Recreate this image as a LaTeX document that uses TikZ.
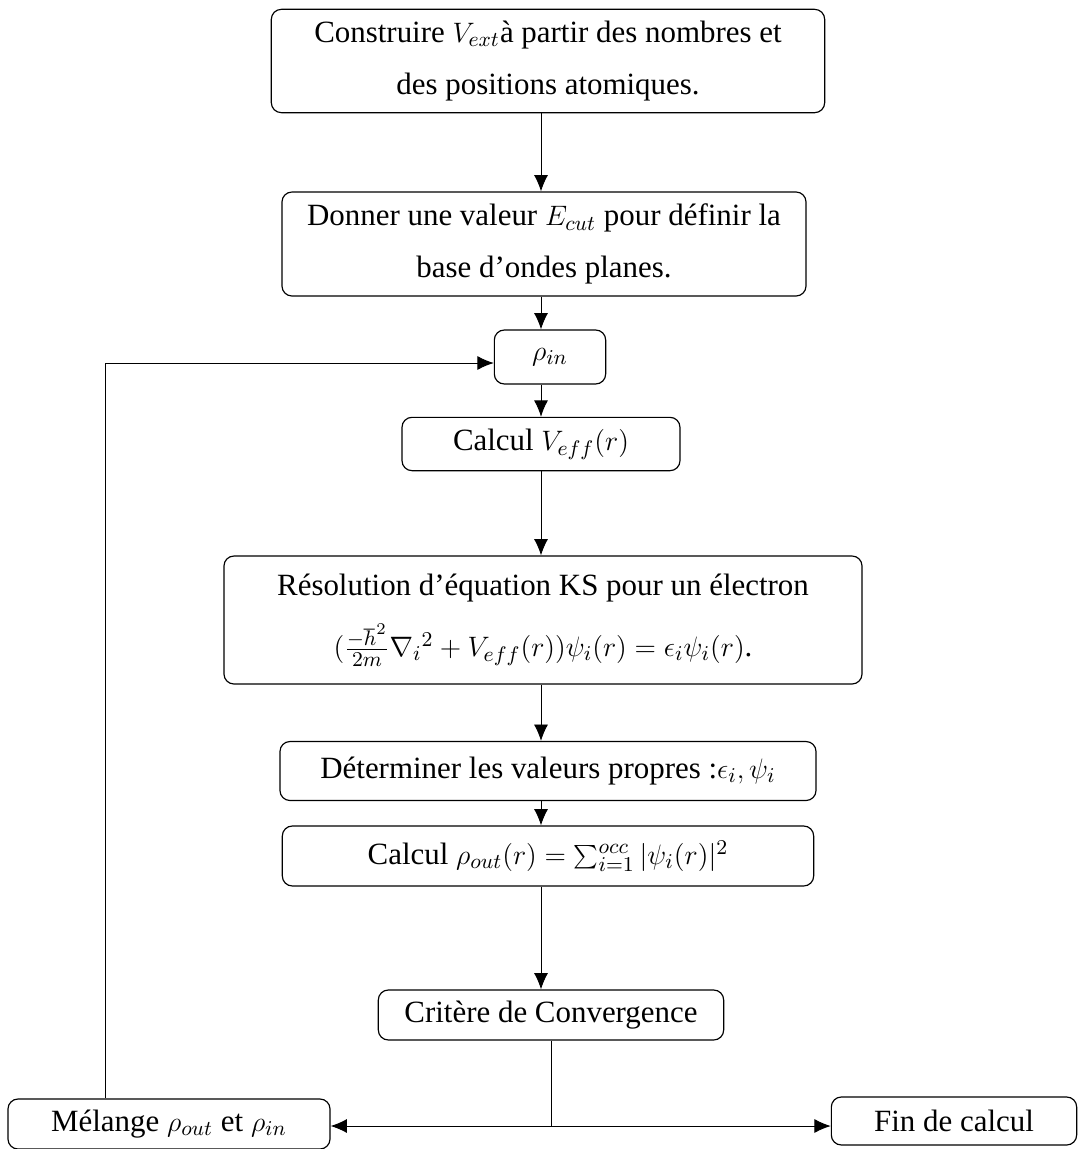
\documentclass[tikz,border=0pt]{standalone}
\usepackage{fontspec}
\setmainfont{Liberation Serif}
\usetikzlibrary{arrows.meta}
\begin{document}
\begin{tikzpicture}[x=0.015cm, y=-0.015cm, line join=round, >={Latex[length=7pt,width=6pt]},
		font=\fontsize{13.2}{20}\selectfont,
		box/.style={draw, rounded corners=0.15cm, align=center, inner sep=0pt, line width=0.5pt}]
			\useasboundingbox (0,0) rectangle (1079,1149);
			\coordinate (axe) at (541,0);
			\node[box, minimum width=8.3cm, minimum height=1.55cm] (B1) at (548,61) {Construire $V_{ext}$à partir des nombres et\\[2pt]des positions atomiques.};
			\node[box, minimum width=7.86cm, minimum height=1.56cm] (B2) at (544,244) {Donner une valeur $E_{cut}$ pour définir la\\[2pt]base d’ondes planes.};
			\node[box, minimum width=1.67cm, minimum height=0.81cm] (Rin) at (550,357) {$\rho_{in}$};
			\node[box, minimum width=4.17cm, minimum height=0.8cm] (Veff) at (541,444) {Calcul $V_{eff}(r)$};
			\node[box, minimum width=9.57cm, minimum height=1.92cm] (KS) at (543,620) {Résolution d’équation KS pour un électron\\[6pt]$(\frac{-\hbar^2}{2m}\nabla_i{}^2+V_{eff}(r))\psi_i(r)=\epsilon_i\psi_i(r)$.};
			\node[box, minimum width=8.04cm, minimum height=0.885cm] (Val) at (548,771) {Déterminer les valeurs propres :$\epsilon_i, \psi_i$};
			\node[box, minimum width=7.97cm, minimum height=0.9cm] (Rout) at (548,856) {Calcul $\rho_{out}(r)=\sum_{i=1}^{occ}|\psi_i(r)|^2$};
			\node[box, minimum width=5.18cm, minimum height=0.75cm] (Conv) at (551,1015) {Critère de Convergence};
			\node[box, minimum width=4.83cm, minimum height=0.75cm] (Mel) at (169,1124) {Mélange $\rho_{out}$ et $\rho_{in}$};
			\node[box, minimum width=3.68cm, minimum height=0.72cm] (Fin) at (954,1121) {Fin de calcul};
			\draw[->] (B1.south -| axe) -- (B2.north -| axe);
			\draw[->] (B2.south -| axe) -- (Rin.north -| axe);
			\draw[->] (Rin.south -| axe) -- (Veff.north -| axe);
			\draw[->] (Veff.south -| axe) -- (KS.north -| axe);
			\draw[->] (KS.south -| axe) -- (Val.north -| axe);
			\draw[->] (Val.south -| axe) -- (Rout.north -| axe);
			\draw[->] (Rout.south -| axe) -- (Conv.north -| axe);
			\draw (Conv.south) -- ([yshift=-0.03cm]Conv.south |- Mel.east);
			\draw[<->] ([yshift=-0.03cm]Mel.east) -- ([yshift=-0.03cm]Mel.east -| Fin.west);
			\draw[->] ([xshift=-0.96cm]Mel.north) |- ([yshift=-0.09cm]Rin.west);
		\end{tikzpicture}
\end{document}
